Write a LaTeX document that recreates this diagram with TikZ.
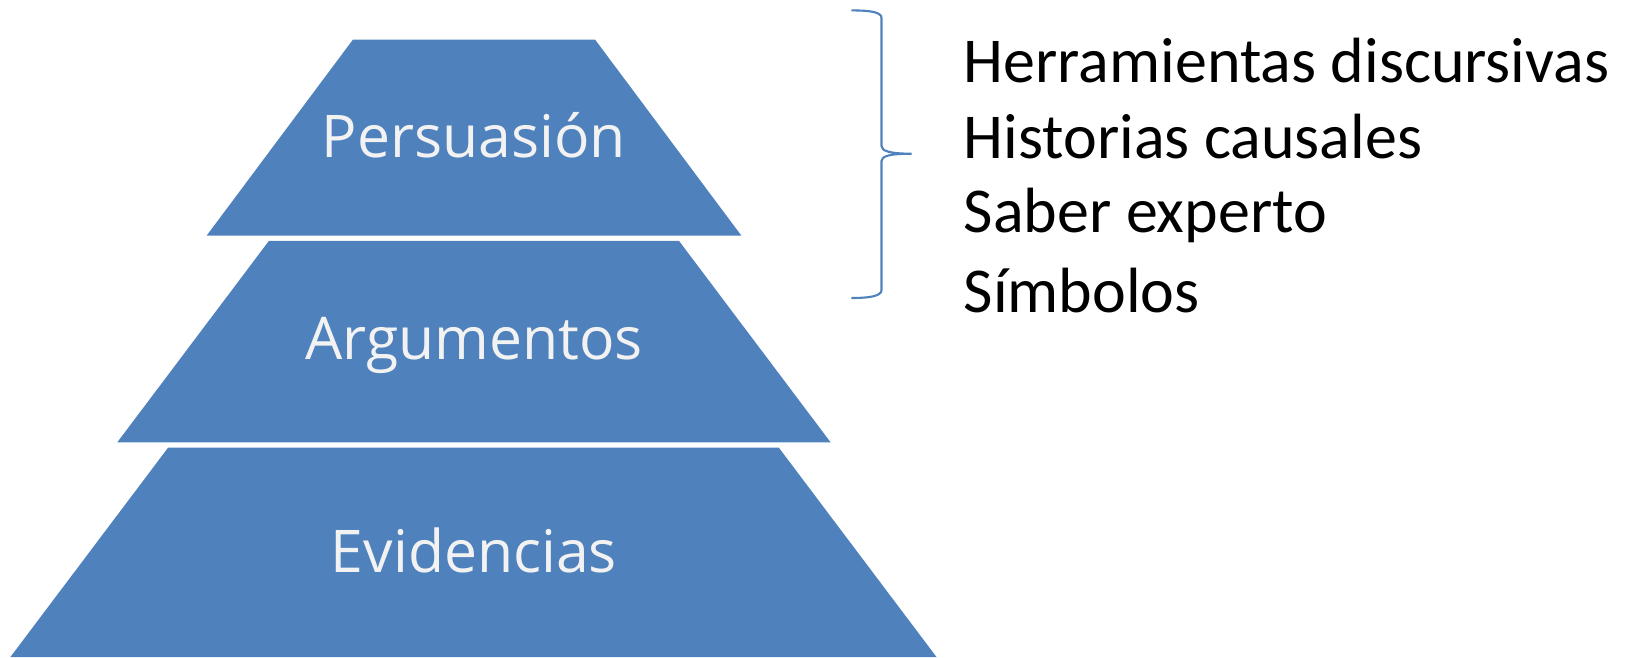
\documentclass[tikz,border=0pt]{standalone}
\usepackage{fontspec}
\setmainfont{Carlito}
\newfontfamily\levelfont{Open Sans}
\definecolor{pyrblue}{HTML}{4F81BD}
\definecolor{pyrtext}{HTML}{F2F2F2}
\tikzset{
    level/.style={fill=pyrblue, draw=none},
    leveltext/.style={text=pyrtext, font=\levelfont\fontsize{33.5}{40}\selectfont, inner sep=0pt},
    itemtext/.style={text=black, font=\fontsize{36.4}{44}\selectfont, anchor=west, inner sep=0pt}
}
\begin{document}
\begin{tikzpicture}[x=0.02cm, y=-0.02cm]
    \useasboundingbox (0, 0) rectangle (1628, 657);
        \fill[level] (353, 39.5) -- (595, 39.5) -- (741.4, 235.7) -- (206.6, 235.7) -- cycle;
            \node[leveltext] (persuasion) at (474, 135){Persuasión};
        \fill[level] (268.9, 240.9) -- (679, 240.9) -- (830.6, 442.3) -- (117.3, 442.3) -- cycle;
            \node[leveltext] (argumentos) at (474, 345){Argumentos};
        \fill[level] (168.2, 447.5) -- (778.7, 447.5) -- (936.5, 657) -- (10.4, 657) -- cycle;
            \node[leveltext] (evidencias) at (474, 550){Evidencias};

        \coordinate (bracetop) at (851.4, 10.4);
        \coordinate (bracetip) at (911.6, 153.7);
        \coordinate (bracebot) at (851.4, 298);
        \draw[pyrblue, line width=1.2pt] (bracetop) .. controls (870, 10.4) and (881.5, 12) .. (881.5, 18)
            -- (881.5, 146) .. controls (881.5, 151) and (890, 153.7) .. (bracetip)
            .. controls (890, 153.7) and (881.5, 156) .. (881.5, 161)
            -- (881.5, 290) .. controls (881.5, 296) and (870, 298) .. (bracebot);

        \node[itemtext] (herramientas) at (963.5, 60.2){Herramientas discursivas};
        \node[itemtext] (historias) at (963.5, 137){Historias causales};
        \node[itemtext] (saber) at (963.5, 215.5){Saber experto};
        \node[itemtext] (simbolos) at (963.5, 290.7){Símbolos};
\end{tikzpicture}
\end{document}
